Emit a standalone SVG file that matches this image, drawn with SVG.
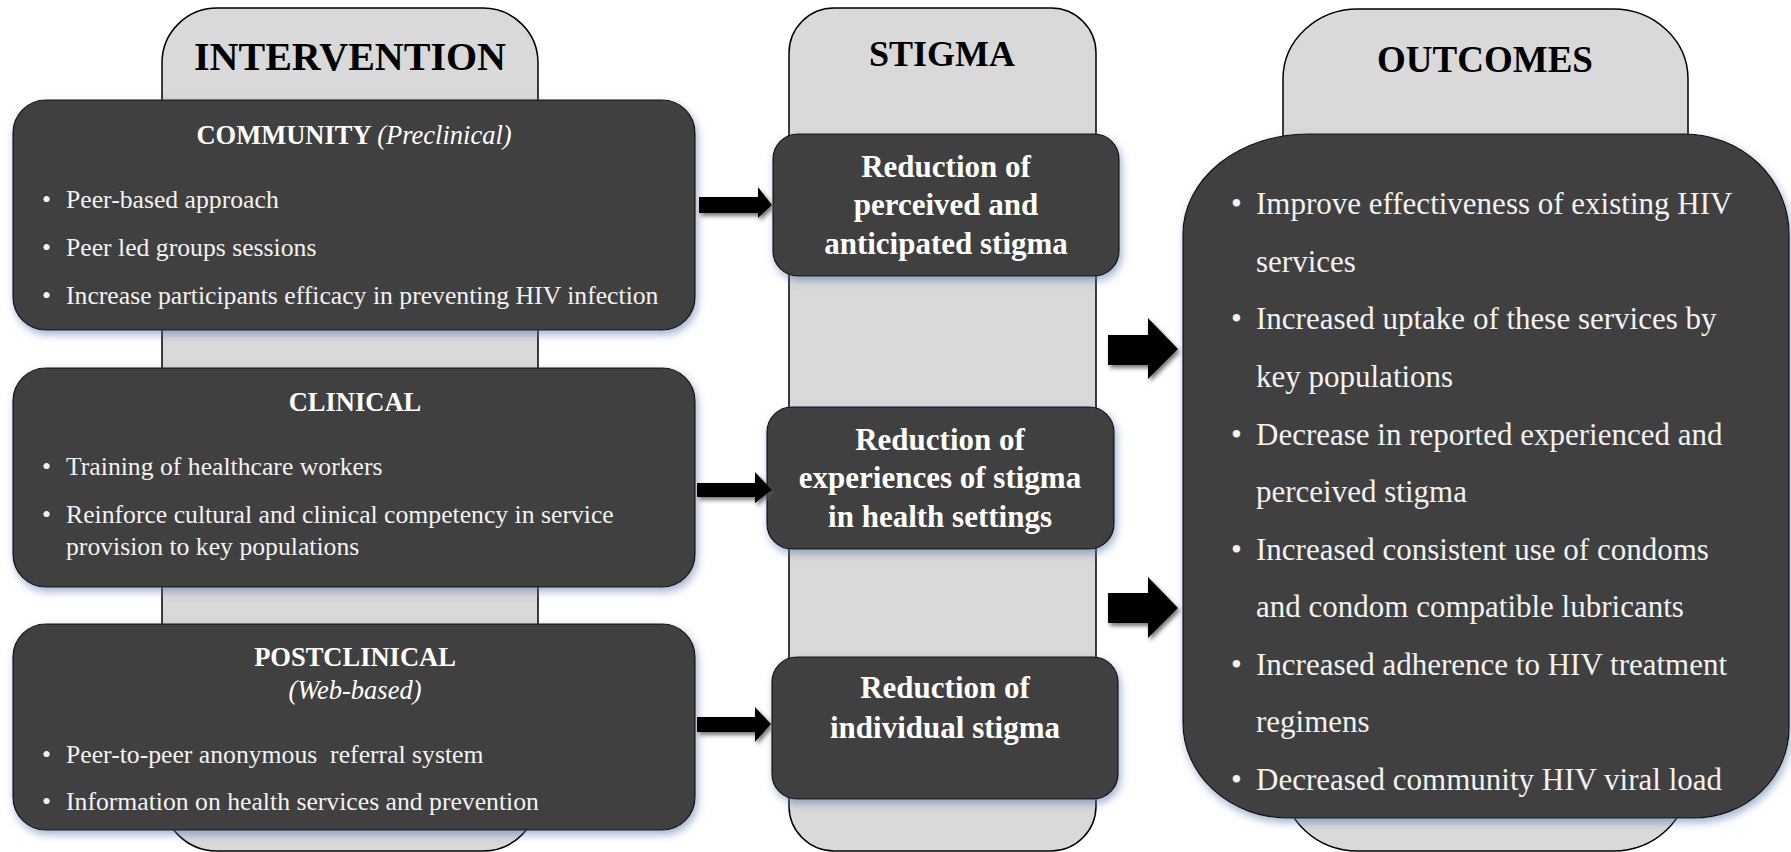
<svg xmlns="http://www.w3.org/2000/svg" width="1791" height="852" viewBox="0 0 1791 852">
<style>
.col{fill:#d9d9d9;stroke:#000;stroke-width:1.5}
.box{fill:#404040;stroke:#111;stroke-width:1.2;filter:url(#sh)}
.hd{font-family:"Liberation Serif",serif;font-weight:bold;font-size:37px;fill:#000;text-anchor:middle}
.ti{font-family:"Liberation Serif",serif;font-weight:bold;font-size:26.5px;fill:#fff;text-anchor:middle}
.it{font-style:italic;font-weight:normal}
.bl{font-family:"Liberation Serif",serif;font-size:25.7px;fill:#f2f2f2}
.st{font-family:"Liberation Serif",serif;font-weight:bold;font-size:31px;fill:#fff;text-anchor:middle}
.oc{font-family:"Liberation Serif",serif;font-size:31px;fill:#f2f2f2}
.arr{fill:#000;filter:url(#ash)}
</style>
<defs>
<filter id="sh" x="-10%" y="-10%" width="125%" height="130%">
<feDropShadow dx="2" dy="4" stdDeviation="4" flood-color="#4f73a8" flood-opacity="0.55"/>
</filter>
<filter id="ash" x="-20%" y="-30%" width="150%" height="170%">
<feDropShadow dx="2" dy="3" stdDeviation="2" flood-color="#555" flood-opacity="0.8"/>
</filter>
</defs>

<g id="col-intervention">
<rect class="col" x="162" y="8" width="376" height="843" rx="55" ry="55"/>
<text class="hd" x="350" y="70" style="font-size:40px">INTERVENTION</text>
</g>
<g id="col-stigma">
<rect class="col" x="789" y="8" width="307" height="843" rx="45" ry="45"/>
<text class="hd" x="942" y="66" style="font-size:36px">STIGMA</text>
</g>
<g id="col-outcomes">
<rect class="col" x="1283" y="9" width="405" height="842" rx="75" ry="70"/>
<text class="hd" x="1485" y="72">OUTCOMES</text>
</g>

<g id="community">
<rect class="box" x="13" y="100" width="682" height="230" rx="33" ry="33"/>
<text class="ti" x="354" y="144">COMMUNITY <tspan class="it">(Preclinical)</tspan></text>
<text class="bl" x="42" y="208">•</text><text class="bl" x="66" y="208">Peer-based approach</text>
<text class="bl" x="42" y="256">•</text><text class="bl" x="66" y="256">Peer led groups sessions</text>
<text class="bl" x="42" y="304">•</text><text class="bl" x="66" y="304">Increase participants efficacy in preventing HIV infection</text>
</g>

<g id="clinical">
<rect class="box" x="13" y="368" width="682" height="219" rx="33" ry="33"/>
<text class="ti" x="355" y="411">CLINICAL</text>
<text class="bl" x="42" y="475">•</text><text class="bl" x="66" y="475">Training of healthcare workers</text>
<text class="bl" x="42" y="523">•</text><text class="bl" x="66" y="523">Reinforce cultural and clinical competency in service</text>
<text class="bl" x="66" y="555">provision to key populations</text>
</g>

<g id="postclinical">
<rect class="box" x="13" y="624" width="682" height="206" rx="33" ry="33"/>
<text class="ti" x="355" y="666">POSTCLINICAL</text>
<text class="ti it" x="355" y="699">(Web-based)</text>
<text class="bl" x="42" y="763">•</text><text class="bl" x="66" y="763" style="white-space:pre">Peer-to-peer anonymous  referral system</text>
<text class="bl" x="42" y="810">•</text><text class="bl" x="66" y="810">Information on health services and prevention</text>
</g>

<g id="stigma-perceived">
<rect class="box" x="773" y="134" width="346" height="142" rx="25" ry="25"/>
<text class="st" x="946" y="177">Reduction of</text>
<text class="st" x="946" y="215">perceived and</text>
<text class="st" x="946" y="254">anticipated stigma</text>
</g>
<g id="stigma-health">
<rect class="box" x="767" y="407" width="347" height="142" rx="25" ry="25"/>
<text class="st" x="940" y="450">Reduction of</text>
<text class="st" x="940" y="488">experiences of stigma</text>
<text class="st" x="940" y="527">in health settings</text>
</g>
<g id="stigma-individual">
<rect class="box" x="772" y="657" width="346" height="142" rx="25" ry="25"/>
<text class="st" x="945" y="698">Reduction of</text>
<text class="st" x="945" y="738">individual stigma</text>
</g>

<g id="outcomes">
<path class="box" d="M1308,134 H1684 A105,100 0 0 1 1789,234 V728 A95,90 0 0 1 1694,818 H1288 A105,95 0 0 1 1183,723 V234 A125,100 0 0 1 1308,134 Z"/>
<g class="oc">
<text x="1231" y="214">•</text><text x="1256" y="214">Improve effectiveness of existing HIV</text>
<text x="1256" y="272">services</text>
<text x="1231" y="329">•</text><text x="1256" y="329">Increased uptake of these services by</text>
<text x="1256" y="387">key populations</text>
<text x="1231" y="445">•</text><text x="1256" y="445">Decrease in reported experienced and</text>
<text x="1256" y="502">perceived stigma</text>
<text x="1231" y="560">•</text><text x="1256" y="560">Increased consistent use of condoms</text>
<text x="1256" y="617">and condom compatible lubricants</text>
<text x="1231" y="675">•</text><text x="1256" y="675">Increased adherence to HIV treatment</text>
<text x="1256" y="732">regimens</text>
<text x="1231" y="790">•</text><text x="1256" y="790">Decreased community HIV viral load</text>
</g>
</g>

<g id="connectors">
<path class="arr" d="M699,197 H758 V187 L772,205 L758,218 V213 H699 Z"/>
<path class="arr" d="M697,483 H755 V472 L772,490 L755,503 V497 H697 Z"/>
<path class="arr" d="M697,717 H755 V707 L771,724 L755,742 V732 H697 Z"/>
<path class="arr" d="M1108,335 H1148 V318 L1178,349 L1148,379 V365 H1108 Z"/>
<path class="arr" d="M1108,593 H1148 V577 L1178,608 L1148,638 V623 H1108 Z"/>
</g>
</svg>
